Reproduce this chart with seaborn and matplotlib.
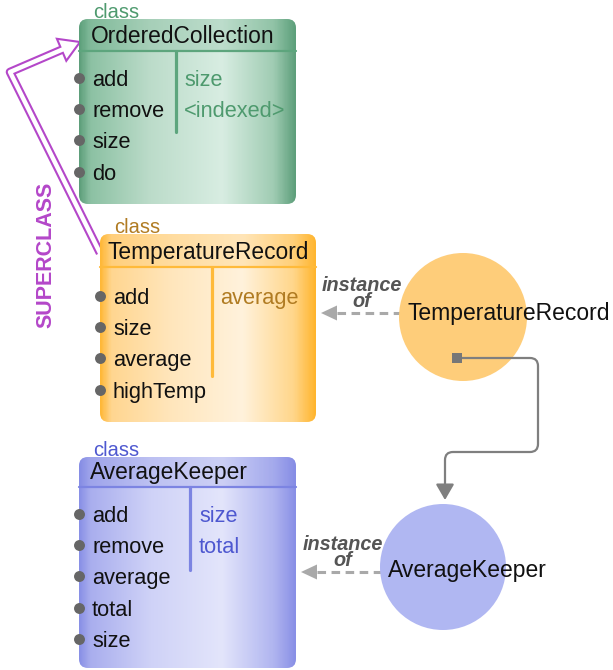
import numpy as np
import matplotlib
matplotlib.use("Agg")
import matplotlib.pyplot as plt
import seaborn as sns
from matplotlib.colors import LinearSegmentedColormap
from matplotlib.patches import FancyBboxPatch, Circle, Polygon, FancyArrowPatch, Rectangle
from matplotlib.path import Path

# diagram content
class_names = ["OrderedCollection", "TemperatureRecord", "AverageKeeper"]
class_methods = [["add", "remove", "size", "do"],
                 ["add", "size", "average", "highTemp"],
                 ["add", "remove", "average", "total", "size"]]
class_vars = [["size", "<indexed>"], ["average"], ["size", "total"]]
instance_names = ["TemperatureRecord", "AverageKeeper"]
instance_of = [1, 2]

sns.set_theme(style="white")
plt.rcParams["font.family"] = ["Liberation Sans", "DejaVu Sans"]

# layout (pixel coordinates, y downwards)
boxes = [dict(x0=79, y0=19, x1=296, y1=204, sep=51, div=176, div_end=132, top=86, mx=92, vx=184, tx=91),
         dict(x0=100, y0=234, x1=316, y1=422, sep=267, div=212, div_end=376, top=304, mx=113, vx=220, tx=108),
         dict(x0=79, y0=457, x1=296, y1=668, sep=487, div=190, div_end=570, top=522, mx=92, vx=199, tx=90)]
step = 31.2
themes = [dict(stops=["#5E9F7B", "#8CC1A3", "#BCDCCA", "#D8EDE2", "#A0CCB3", "#5E9F7B"],
               dark="#5DA57D", label="#4E9A6E"),
          dict(stops=["#FFB838", "#FFD690", "#FFE6BC", "#FFF2DC", "#FFD68A", "#FFB52E"],
               dark="#FFBA3A", label="#B07B22"),
          dict(stops=["#8990E6", "#A9AEEE", "#CFD2F7", "#E3E5FB", "#B0B5F0", "#8990E6"],
               dark="#7C84E2", label="#4E58D0")]
stop_pos = [0, 0.05, 0.33, 0.66, 0.9, 1]

circles = [dict(cx=463, cy=317, r=64, color="#FECD7A", tx=408, ty=320, ay=313, ax_tip=321),
           dict(cx=443, cy=567, r=63, color="#B0B7F2", tx=388, ty=577, ay=572, ax_tip=301)]

fig = plt.figure(figsize=(6.13, 6.70), dpi=100)
ax = fig.add_axes([0, 0, 1, 1])

for name, meths, ivs, b, th in zip(class_names, class_methods, class_vars, boxes, themes):
    cmap = LinearSegmentedColormap.from_list(name, list(zip(stop_pos, th["stops"])))
    grad = np.linspace(0, 1, 300).reshape(1, -1)
    im = ax.imshow(grad, cmap=cmap, extent=(b["x0"], b["x1"], b["y1"], b["y0"]),
                   aspect="auto", interpolation="bilinear", zorder=1)
    clip = FancyBboxPatch((b["x0"], b["y0"]), b["x1"] - b["x0"], b["y1"] - b["y0"],
                          boxstyle="round,pad=0,rounding_size=9", fc="none", ec="none", zorder=1)
    ax.add_patch(clip)
    im.set_clip_path(clip)
    band = Rectangle((b["x0"], b["y0"]), b["x1"] - b["x0"], b["sep"] - b["y0"],
                     fc=th["dark"], ec="none", alpha=0.22, zorder=1.5)
    ax.add_patch(band)
    band.set_clip_path(clip)
    ax.plot([b["x0"], b["x1"]], [b["sep"], b["sep"]], color=th["dark"], lw=1.6, zorder=2)
    ax.plot([b["div"], b["div"]], [b["sep"], b["div_end"]], color=th["dark"], lw=2.3, zorder=2)

    ax.text(b["x0"] + 14, b["y0"] - 1, "class", color=th["label"], fontsize=14.5, va="baseline", zorder=3)
    ax.text(b["tx"], b["sep"] - 8, name, color="#111111", fontsize=16.4, va="baseline", zorder=3)

    ys = b["top"] + step * np.arange(len(meths))
    ax.scatter(np.full(len(meths), b["x0"]), ys - 8, s=62, color="#666666", zorder=4, linewidths=0)
    for m, y in zip(meths, ys):
        ax.text(b["mx"], y, m, color="#111111", fontsize=15.7, va="baseline", zorder=3)
    for i, v in enumerate(ivs):
        ax.text(b["vx"], b["top"] + step * i, v, color=th["label"], fontsize=15.7, va="baseline", zorder=3)

# superclass arrow (hollow, double line)
purple = "#B447C9"
shaft = np.array([[100, 253], [10, 72], [61.6, 49.8]])
ax.plot(shaft[:, 0], shaft[:, 1], color=purple, lw=6.2, solid_joinstyle="round",
        solid_capstyle="butt", zorder=0.6)
head = Polygon([[80, 42], [56.9, 38.8], [66.3, 60.8]], closed=True, fc="white", ec=purple,
               lw=1.5, joinstyle="miter", zorder=0.7)
ax.add_patch(head)
inner = np.array([[101, 255], [10, 72], [64.5, 48.6]])
ax.plot(inner[:, 0], inner[:, 1], color="white", lw=3.2, solid_joinstyle="round",
        solid_capstyle="butt", zorder=0.8)
ax.text(46, 255, "SUPERCLASS", rotation=90, color=purple, fontsize=15.5, fontweight="bold",
        ha="center", va="center", zorder=3)

# instances
for label, c, cls in zip(instance_names, circles, instance_of):
    ax.plot([c["ax_tip"] + 16, c["cx"] - c["r"] + 1], [c["ay"], c["ay"]], color="#A9A9A9", lw=2.2,
            linestyle=(0, (2.8, 1.8)), solid_capstyle="butt", zorder=2)
    ax.add_patch(Polygon([[c["ax_tip"], c["ay"]], [c["ax_tip"] + 16, c["ay"] - 7.5],
                          [c["ax_tip"] + 16, c["ay"] + 7.5]], closed=True, fc="#A9A9A9", ec="none", zorder=2))
    mid = (c["ax_tip"] + c["cx"] - c["r"]) / 2 + 2
    ax.text(mid, c["ay"] - 6, "instance\nof", color="#555555", fontsize=14.3, fontweight="bold",
            style="italic", ha="center", multialignment="center", va="baseline",
            linespacing=0.8, zorder=3)
    ax.add_patch(Circle((c["cx"], c["cy"]), c["r"], fc=c["color"], ec="none", zorder=2.5))
    ax.text(c["tx"], c["ty"], label, color="#111111", fontsize=16.5, va="baseline", zorder=3)

# reference from TemperatureRecord instance to AverageKeeper instance
verts = [(457, 358), (530, 358), (538, 358), (538, 366), (538, 444), (538, 452), (530, 452),
         (453, 452), (445, 452), (445, 460), (445, 500)]
codes = [Path.MOVETO, Path.LINETO, Path.CURVE3, Path.CURVE3, Path.LINETO, Path.CURVE3, Path.CURVE3,
         Path.LINETO, Path.CURVE3, Path.CURVE3, Path.LINETO]
link = FancyArrowPatch(path=Path(verts, codes), arrowstyle="-|>,head_length=0.95,head_width=0.55",
                       mutation_scale=10, color="#7F7F7F", lw=1.6, zorder=3)
ax.add_patch(link)
ax.add_patch(Rectangle((452, 353), 10, 10, fc="#777777", ec="none", zorder=3.5))

ax.set_xlim(0, 613)
ax.set_ylim(670, 0)
ax.axis("off")
fig.savefig("out.png", dpi=100)
